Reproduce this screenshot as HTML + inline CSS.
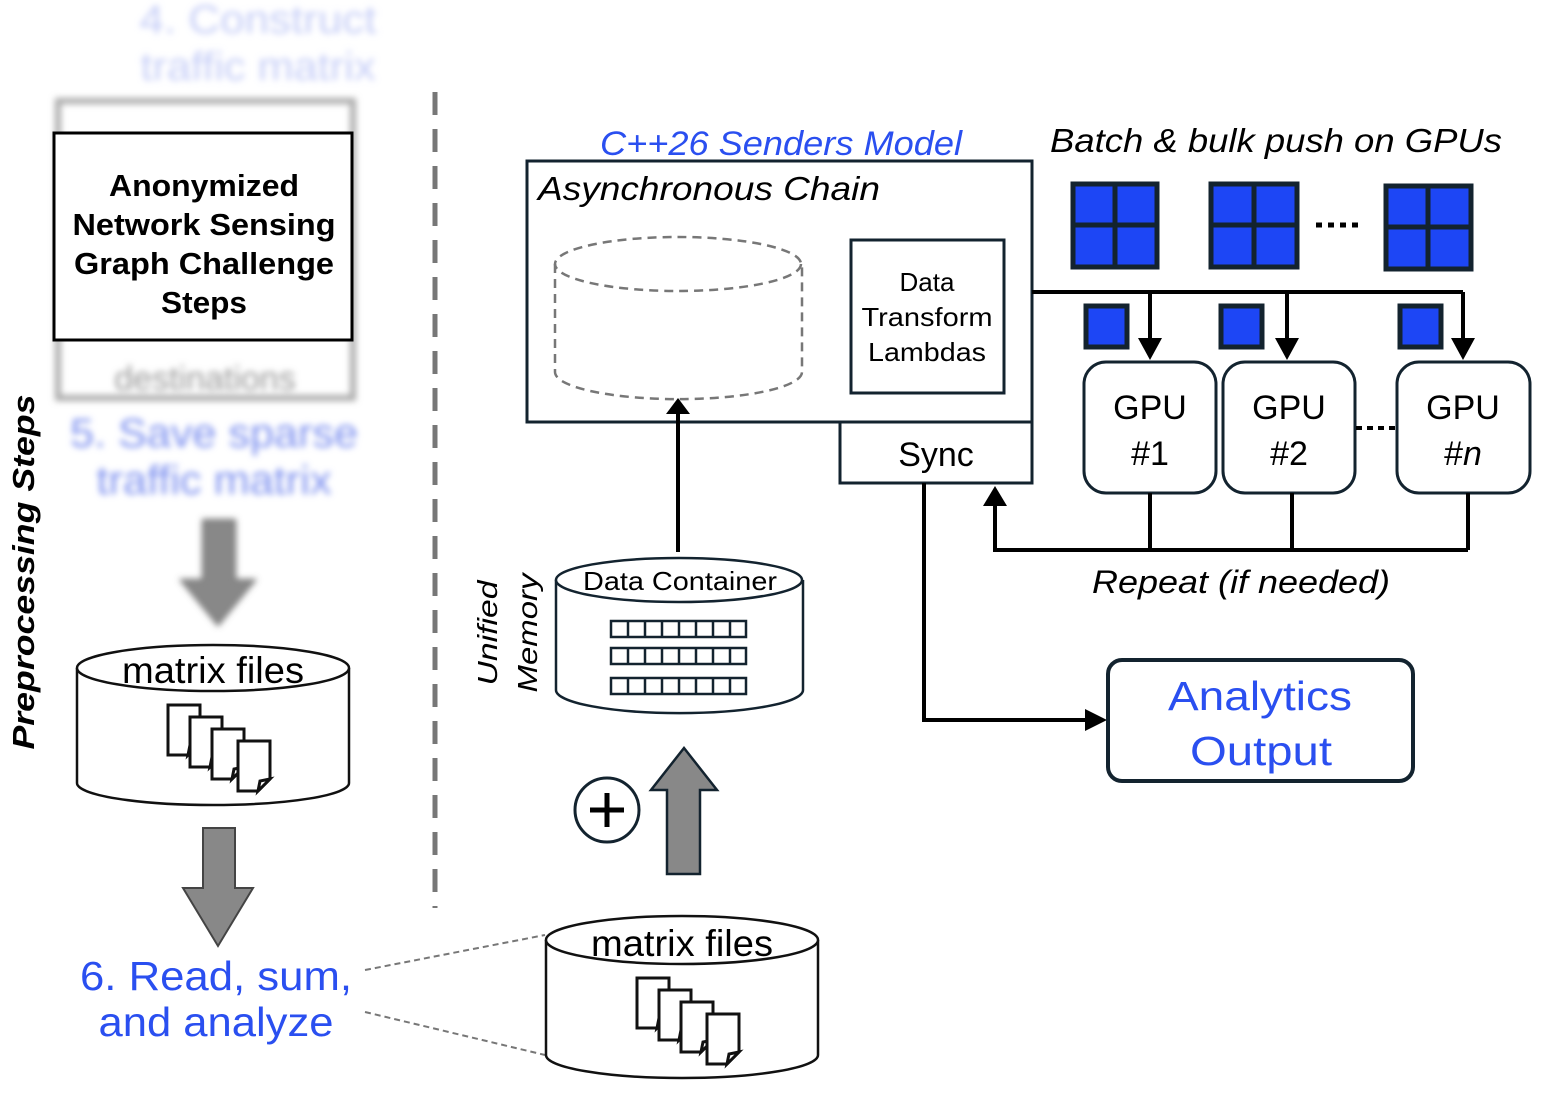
<!DOCTYPE html>
<html><head><meta charset="utf-8"><style>
html,body{margin:0;padding:0;background:#fff;}
svg{display:block;}
text{font-family:"Liberation Sans",sans-serif;}
</style></head><body>
<svg width="1544" height="1096" viewBox="0 0 1544 1096" xmlns="http://www.w3.org/2000/svg">
<defs>
<filter id="b" x="-20%" y="-20%" width="140%" height="140%"><feGaussianBlur stdDeviation="3.2"/></filter>
<g id="docs" fill="#fff" stroke="#111" stroke-width="3">
<path d="M0 0h32v38l-12 12h-20z"/><path d="M32 38l-12 12l2-10z" fill="#fff"/>
</g>
</defs>

<!-- blurred top -->
<g filter="url(#b)">
<text x="258" y="33" font-size="40" fill="#c5cdf7" text-anchor="middle" textLength="237" lengthAdjust="spacingAndGlyphs">4. Construct</text>
<text x="258" y="80" font-size="40" fill="#c5cdf7" text-anchor="middle" textLength="235" lengthAdjust="spacingAndGlyphs">traffic matrix</text>
<rect x="58" y="101" width="295" height="297" fill="none" stroke="#aaa" stroke-width="6"/>
<text x="205" y="390" font-size="34" fill="#999" text-anchor="middle">destinations</text>
</g>
<rect x="54" y="133" width="298" height="207" fill="#fff" stroke="#000" stroke-width="3"/>
<g font-weight="bold" font-size="31" text-anchor="middle" fill="#000">
<text x="204" y="196" textLength="190" lengthAdjust="spacingAndGlyphs">Anonymized</text>
<text x="204" y="235" textLength="263" lengthAdjust="spacingAndGlyphs">Network Sensing</text>
<text x="204" y="274" textLength="260" lengthAdjust="spacingAndGlyphs">Graph Challenge</text>
<text x="204" y="313" textLength="86" lengthAdjust="spacingAndGlyphs">Steps</text>
</g>
<g filter="url(#b)">
<text x="214" y="447" font-size="41" fill="#7d90ef" text-anchor="middle" textLength="288" lengthAdjust="spacingAndGlyphs">5. Save sparse</text>
<text x="214" y="494" font-size="41" fill="#7d90ef" text-anchor="middle" textLength="235" lengthAdjust="spacingAndGlyphs">traffic matrix</text>
<path d="M203 520h32v60h20l-37 45l-37-45h22z" fill="#888" stroke="#666" stroke-width="2"/>
</g>

<text transform="translate(34,572) rotate(-90)" font-size="31" font-weight="bold" font-style="italic" text-anchor="middle" textLength="355" lengthAdjust="spacingAndGlyphs">Preprocessing Steps</text>

<!-- left cylinder -->
<path d="M77 668v115a136 22 0 0 0 272 0v-115" fill="#fff" stroke="#111" stroke-width="2.5"/>
<ellipse cx="213" cy="668" rx="136" ry="23" fill="#fff" stroke="#111" stroke-width="2.5"/>
<text x="213" y="683" font-size="37" text-anchor="middle" textLength="182" lengthAdjust="spacingAndGlyphs">matrix files</text>
<use href="#docs" x="168" y="705"/><use href="#docs" x="190" y="717"/><use href="#docs" x="212" y="729"/><use href="#docs" x="238" y="741"/>

<path d="M203 828h32v60h18l-35 58l-35-58h20z" fill="#888" stroke="#444" stroke-width="2"/>
<text x="216" y="990" font-size="41" fill="#2a4ff0" text-anchor="middle" textLength="272" lengthAdjust="spacingAndGlyphs">6. Read, sum,</text>
<text x="216" y="1036" font-size="41" fill="#2a4ff0" text-anchor="middle" textLength="235" lengthAdjust="spacingAndGlyphs">and analyze</text>
<line x1="365" y1="970" x2="545" y2="935" stroke="#777" stroke-width="2" stroke-dasharray="6,4"/>
<line x1="365" y1="1012" x2="545" y2="1055" stroke="#777" stroke-width="2" stroke-dasharray="6,4"/>

<line x1="435" y1="92" x2="435" y2="908" stroke="#777" stroke-width="5" stroke-dasharray="23,14"/>

<!-- middle -->
<text x="781" y="155" font-size="34" font-style="italic" fill="#2a4ff0" text-anchor="middle" textLength="362" lengthAdjust="spacingAndGlyphs">C++26 Senders Model</text>
<rect x="527" y="161" width="505" height="261" fill="#fff" stroke="#13232f" stroke-width="3"/>
<text x="538" y="200" font-size="33" font-style="italic" textLength="342" lengthAdjust="spacingAndGlyphs">Asynchronous Chain</text>
<path d="M555 264v108a123 27 0 0 0 247 0v-108" fill="none" stroke="#777" stroke-width="2.5" stroke-dasharray="9,6"/>
<ellipse cx="678" cy="264" rx="123" ry="27" fill="none" stroke="#777" stroke-width="2.5" stroke-dasharray="9,6"/>
<rect x="851" y="240" width="153" height="153" fill="#fff" stroke="#13232f" stroke-width="3"/>
<g font-size="26" text-anchor="middle"><text x="927" y="291">Data</text><text x="927" y="326" textLength="131" lengthAdjust="spacingAndGlyphs">Transform</text><text x="927" y="361" textLength="118" lengthAdjust="spacingAndGlyphs">Lambdas</text></g>
<rect x="840" y="422" width="192" height="61" fill="#fff" stroke="#13232f" stroke-width="3"/>
<text x="936" y="466" font-size="34" text-anchor="middle">Sync</text>

<line x1="678" y1="552" x2="678" y2="412" stroke="#000" stroke-width="4"/>
<path d="M666 414l12-16l12 16z" fill="#000"/>

<path d="M556 580v110a123 23 0 0 0 247 0v-110" fill="#fff" stroke="#13232f" stroke-width="2.5"/>
<ellipse cx="679" cy="580" rx="123" ry="22" fill="#fff" stroke="#13232f" stroke-width="2.5"/>
<text x="680" y="590" font-size="26" text-anchor="middle" textLength="194" lengthAdjust="spacingAndGlyphs">Data Container</text>
<g fill="none" stroke="#13232f" stroke-width="2.5">
<rect x="611" y="621" width="135" height="16"/><rect x="611" y="648" width="135" height="16"/><rect x="611" y="678" width="135" height="16"/>
<path d="M628 621v16M645 621v16M662 621v16M679 621v16M696 621v16M713 621v16M730 621v16"/>
<path d="M628 648v16M645 648v16M662 648v16M679 648v16M696 648v16M713 648v16M730 648v16"/>
<path d="M628 678v16M645 678v16M662 678v16M679 678v16M696 678v16M713 678v16M730 678v16"/>
</g>
<g font-size="28" font-style="italic" text-anchor="middle">
<text transform="translate(497,633) rotate(-90)" textLength="105" lengthAdjust="spacingAndGlyphs">Unified</text>
<text transform="translate(537,633) rotate(-90)" textLength="119" lengthAdjust="spacingAndGlyphs">Memory</text>
</g>
<circle cx="607" cy="810" r="32" fill="#fff" stroke="#13232f" stroke-width="3"/>
<path d="M607 793v34M590 810h34" stroke="#000" stroke-width="5"/>
<path d="M667 874v-84h-16l33-42l33 42h-17v84z" fill="#888" stroke="#13232f" stroke-width="2.5"/>

<path d="M546 940v115a136 23 0 0 0 272 0v-115" fill="#fff" stroke="#111" stroke-width="2.5"/>
<ellipse cx="682" cy="940" rx="136" ry="24" fill="#fff" stroke="#111" stroke-width="2.5"/>
<text x="682" y="956" font-size="37" text-anchor="middle" textLength="182" lengthAdjust="spacingAndGlyphs">matrix files</text>
<use href="#docs" x="637" y="978"/><use href="#docs" x="659" y="990"/><use href="#docs" x="681" y="1002"/><use href="#docs" x="707" y="1014"/>

<!-- right -->
<text x="1050" y="152" font-size="33" font-style="italic" textLength="452" lengthAdjust="spacingAndGlyphs">Batch &amp; bulk push on GPUs</text>
<g fill="#1d46f5" stroke="#13232f" stroke-width="5">
<rect x="1073" y="184" width="84" height="83"/><path d="M1115 184v83M1073 225h84"/>
<rect x="1211" y="184" width="86" height="83"/><path d="M1254 184v83M1211 225h86"/>
<rect x="1386" y="186" width="85" height="83"/><path d="M1428 186v83M1386 227h85"/>
<rect x="1086" y="306" width="41" height="41"/><rect x="1221" y="306" width="41" height="41"/><rect x="1400" y="306" width="41" height="41"/>
</g>
<path d="M1316 225h44" stroke="#000" stroke-width="5" stroke-dasharray="6,6"/>
<path d="M1032 292h431M1150 292v50M1287 292v50M1463 292v50" fill="none" stroke="#000" stroke-width="4"/>
<path d="M1138 338h24l-12 22zM1275 338h24l-12 22zM1451 338h24l-12 22z" fill="#000"/>
<g fill="#fff" stroke="#13232f" stroke-width="3">
<rect x="1084" y="362" width="132" height="131" rx="22"/>
<rect x="1223" y="362" width="132" height="131" rx="22"/>
<rect x="1397" y="362" width="133" height="131" rx="22"/>
</g>
<path d="M1356 428h40" stroke="#000" stroke-width="4" stroke-dasharray="6,5"/>
<g font-size="34" text-anchor="middle">
<text x="1150" y="419">GPU</text><text x="1150" y="465">#1</text>
<text x="1289" y="419">GPU</text><text x="1289" y="465">#2</text>
<text x="1463" y="419">GPU</text><text x="1463" y="465">#<tspan font-style="italic">n</tspan></text>
</g>
<path d="M1150 493v57M1292 493v57M1468 493v57M1468 550h-473v-55" fill="none" stroke="#000" stroke-width="4"/>
<path d="M983 506l12-20l12 20z" fill="#000"/>
<text x="1241" y="593" font-size="32" font-style="italic" text-anchor="middle" textLength="298" lengthAdjust="spacingAndGlyphs">Repeat (if needed)</text>

<path d="M924 483v237h164" fill="none" stroke="#000" stroke-width="4"/>
<path d="M1085 709l22 11l-22 11z" fill="#000"/>
<rect x="1108" y="660" width="305" height="121" rx="14" fill="#fff" stroke="#13232f" stroke-width="4"/>
<text x="1260" y="710" font-size="41" fill="#2a4ff0" text-anchor="middle" textLength="184" lengthAdjust="spacingAndGlyphs">Analytics</text>
<text x="1261" y="765" font-size="41" fill="#2a4ff0" text-anchor="middle" textLength="142" lengthAdjust="spacingAndGlyphs">Output</text>
</svg>
</body></html>
